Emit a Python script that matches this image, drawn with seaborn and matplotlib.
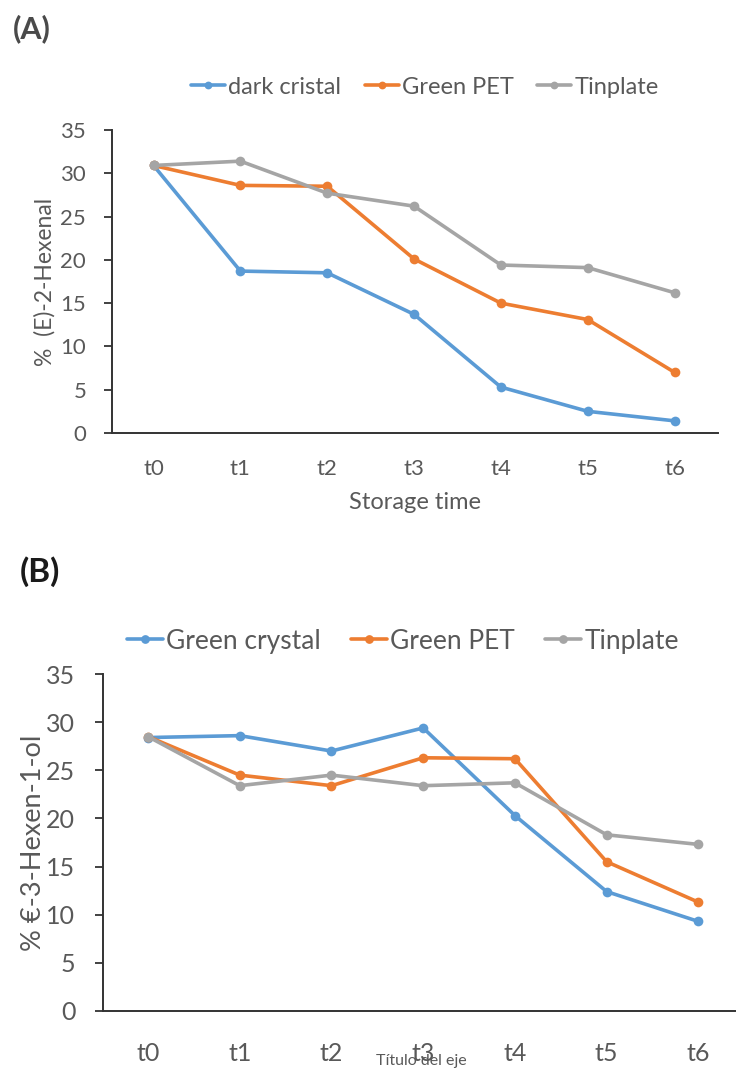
import matplotlib
matplotlib.use("Agg")
import matplotlib.pyplot as plt
import seaborn as sns
import pandas as pd

# ---- data ----
times = ["t0", "t1", "t2", "t3", "t4", "t5", "t6"]

a_series = ["dark cristal", "Green PET", "Tinplate"]
a_dark_cristal = [30.9, 18.7, 18.5, 13.7, 5.3, 2.5, 1.4]
a_green_pet = [30.9, 28.6, 28.5, 20.1, 15.0, 13.1, 7.0]
a_tinplate = [30.9, 31.4, 27.7, 26.2, 19.4, 19.1, 16.2]

b_series = ["Green crystal", "Green PET", "Tinplate"]
b_green_crystal = [28.4, 28.6, 27.0, 29.4, 20.3, 12.4, 9.3]
b_green_pet = [28.5, 24.5, 23.4, 26.3, 26.2, 15.5, 11.3]
b_tinplate = [28.5, 23.4, 24.5, 23.4, 23.7, 18.3, 17.3]

y_ticks = [0, 5, 10, 15, 20, 25, 30, 35]
colors = ["#5B9BD5", "#ED7D31", "#A5A5A5"]

def long_df(names, arrays):
    rows = []
    for n, arr in zip(names, arrays):
        for t, v in zip(times, arr):
            rows.append({"time": t, "value": v, "series": n})
    return pd.DataFrame(rows)

df_a = long_df(a_series, [a_dark_cristal, a_green_pet, a_tinplate])
df_b = long_df(b_series, [b_green_crystal, b_green_pet, b_tinplate])

sns.set_style("white")
plt.rcParams["font.family"] = ["Lato", "DejaVu Sans"]

TXT = "#595959"
SPINE = "#333333"

fig = plt.figure(figsize=(7.36, 10.68), dpi=100)
ax_a = fig.add_axes([0.152, 0.5946, 0.8235, 0.2837])
ax_b = fig.add_axes([0.140, 0.0534, 0.860, 0.3155])

def style_axis(ax, df, names, tick_fs, xpad, ypad, xlim):
    sns.lineplot(data=df, x="time", y="value", hue="series", hue_order=names,
                 palette=colors, marker="o", markersize=7, markeredgewidth=0,
                 linewidth=2.6, ax=ax, sort=False, legend=True)
    ax.set_ylim(0, 35)
    ax.set_xlim(*xlim)
    ax.set_yticks(y_ticks)
    for s in ["top", "right"]:
        ax.spines[s].set_visible(False)
    for s in ["left", "bottom"]:
        ax.spines[s].set_color(SPINE)
        ax.spines[s].set_linewidth(1.4)
    ax.tick_params(axis="y", left=True, length=6, width=1.3, color=SPINE,
                   labelsize=tick_fs, labelcolor=TXT, pad=ypad, direction="out")
    ax.tick_params(axis="x", bottom=False, labelsize=tick_fs, labelcolor=TXT,
                   pad=xpad)
    ax.grid(False)

style_axis(ax_a, df_a, a_series, 16, 15, 12.5, (-0.48, 6.5))
style_axis(ax_b, df_b, b_series, 18, 19, 14, (-0.49, 6.41))

# labels
ax_a.set_ylabel("%  (E)-2-Hexenal", fontsize=16.5, color=TXT)
ax_a.yaxis.set_label_coords(-0.093, 0.5)
ax_a.set_xlabel("Storage time", fontsize=17, color=TXT)
ax_a.xaxis.set_label_coords(0.5, -0.195)

ax_b.set_ylabel("% \u20ac-3-Hexen-1-ol", fontsize=19.5, color=TXT)
ax_b.yaxis.set_label_coords(-0.09, 0.5)
ax_b.set_xlabel("T\u00edtulo del eje", fontsize=11.5, color=TXT)
ax_b.xaxis.set_label_coords(0.503, -0.128)

# legends
h, l = ax_a.get_legend_handles_labels()
ax_a.legend(h, l, loc="center", bbox_to_anchor=(0.577, 0.9185),
            bbox_transform=fig.transFigure, ncol=3, frameon=False,
            fontsize=17, labelcolor=TXT, handlelength=1.45,
            handletextpad=0.12, columnspacing=1.0, markerscale=0.8)
h, l = ax_b.get_legend_handles_labels()
ax_b.legend(h, l, loc="center", bbox_to_anchor=(0.547, 0.3998),
            bbox_transform=fig.transFigure, ncol=3, frameon=False,
            fontsize=19, labelcolor=TXT, handlelength=1.37,
            handletextpad=0.12, columnspacing=1.14, markerscale=0.9)

# panel tags
fig.text(0.017, 0.9735, "(A)", fontsize=22, fontweight="bold", color="#4a4a4a",
         va="center", ha="left")
fig.text(0.027, 0.4645, "(B)", fontsize=24, fontweight="bold", color="#1a1a1a",
         va="center", ha="left")

fig.savefig("out.png", dpi=100)
